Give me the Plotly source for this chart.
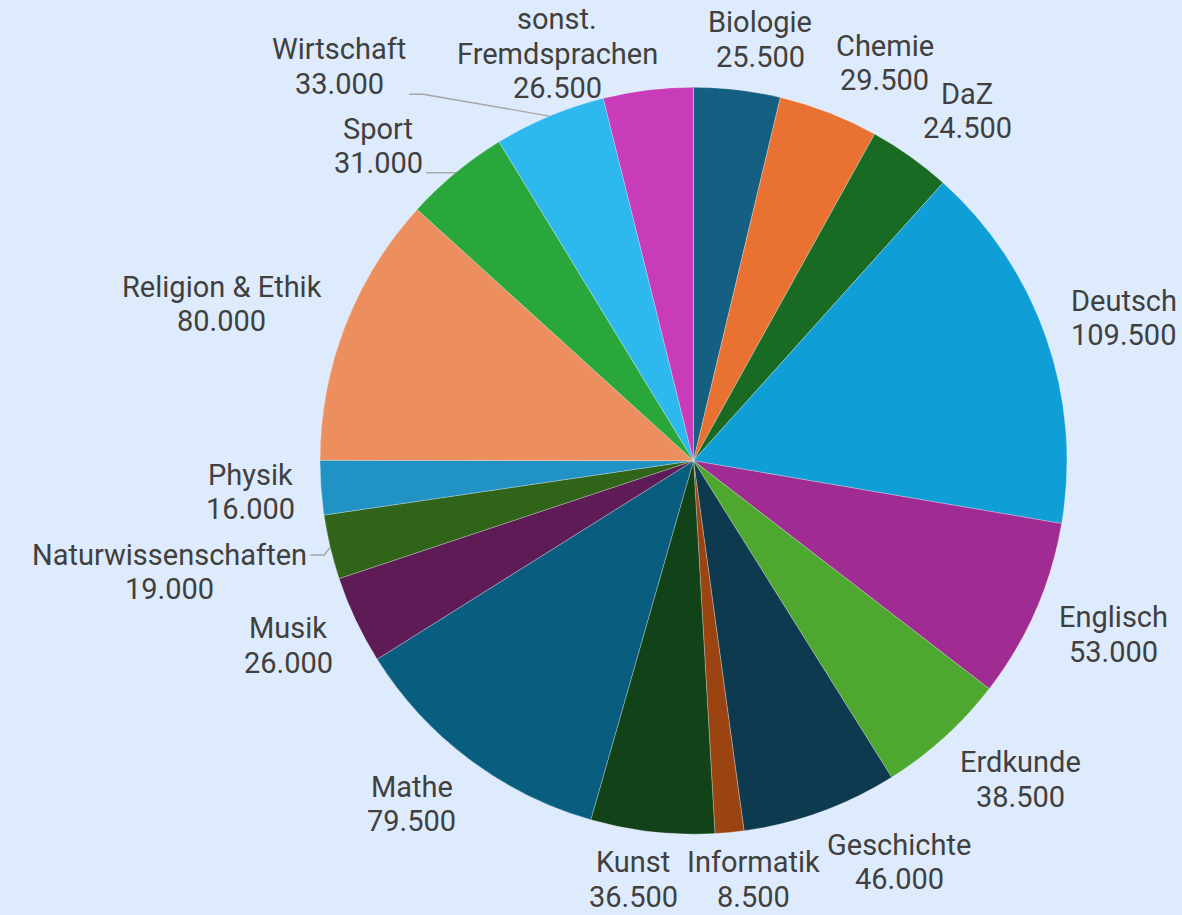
import math
import plotly.graph_objects as go

subjects = ["Biologie", "Chemie", "DaZ", "Deutsch", "Englisch", "Erdkunde", "Geschichte",
            "Informatik", "Kunst", "Mathe", "Musik", "Naturwissenschaften", "Physik",
            "Religion & Ethik", "Sport", "Wirtschaft", "sonst. Fremdsprachen"]
values = [25500, 29500, 24500, 109500, 53000, 38500, 46000, 8500, 36500, 79500,
          26000, 19000, 16000, 80000, 31000, 33000, 26500]
colors = ["#156082", "#E97132", "#196B24", "#0F9ED5", "#A02B93", "#4EA72E", "#0D3A4F",
          "#9B4412", "#114218", "#095E80", "#5F1B56", "#2F6419", "#2192C4",
          "#ED8E5E", "#29A73B", "#2DB8EE", "#C83CB9"]

# ---------------- layout constants ----------------
W, H = 1182, 915
CX, CY, RAD = 693.5, 460.7, 373.5       # pie geometry (px)
FONT_SIZE = 29
LINE_H = 34.5
TEXT_COLOR = "#404040"
BG = "#DEEBFD"

# approximate Roboto advance widths (em) for label-box estimation
ADV = {ch: 0.5615 for ch in "0123456789"}
ADV.update({".": 0.263, " ": 0.248, "&": 0.621,
            "a": 0.5435, "b": 0.561, "c": 0.5234, "d": 0.564, "e": 0.5298, "f": 0.3472,
            "g": 0.561, "h": 0.5513, "i": 0.2427, "k": 0.5068, "l": 0.2427, "m": 0.8765,
            "n": 0.5522, "o": 0.5703, "p": 0.561, "r": 0.3384, "s": 0.5161, "t": 0.3271,
            "u": 0.5513, "y": 0.4736, "w": 0.751, "z": 0.496,
            "B": 0.6216, "C": 0.6519, "D": 0.6548, "E": 0.5679, "F": 0.5522, "G": 0.6812,
            "I": 0.272, "K": 0.6265, "M": 0.873, "N": 0.7129, "P": 0.6323, "R": 0.6162,
            "S": 0.5928, "W": 0.8872, "Z": 0.5981})


def text_width(s):
    return sum(ADV.get(ch, 0.55) for ch in s) * FONT_SIZE


def fmt_de(v):
    return f"{v:,}".replace(",", ".")


def place(phi, hw, hh):
    a = math.radians(phi)
    s, c = math.sin(a), math.cos(a)
    rl = RAD + 14.5 + 12 * abs(s)
    sx = max(-1.0, min(1.0, 3.5 * s))
    x = CX + rl * s + hw * sx
    y = CY - rl * c - hh * c
    y = min(max(y, hh + 2), H - hh - 1)
    x = min(max(x, hw + 2), W - hw - 1)
    return x, y


def box(l):
    return (l["x"] - l["hw"], l["x"] + l["hw"], l["y"] - l["hh"], l["y"] + l["hh"])


def line_rects(l):
    n = len(l["lines"])
    out = []
    for k, w in enumerate(l["widths"]):
        yc = l["y"] + (k - (n - 1) / 2) * LINE_H
        out.append((l["x"] - w / 2, l["x"] + w / 2, yc - LINE_H / 2, yc + LINE_H / 2))
    return out


def overlaps(a, b, padx=5, pady=2):
    for al, ar, at, ab in line_rects(a):
        for bl, br, bt, bb in line_rects(b):
            if al < br + padx and bl < ar + padx and at < bb + pady and bt < ab + pady:
                return True
    return False


# ---------------- label placement ----------------
total = sum(values)
labs = []
cum = 0
for name, v in zip(subjects, values):
    phi = (cum + v / 2) / total * 360
    cum += v
    lines = name.replace("sonst. ", "sonst.\n").split("\n") + [fmt_de(v)]
    widths = [text_width(t) for t in lines]
    hw = max(widths) / 2
    hh = len(lines) * LINE_H / 2
    x, y = place(phi, hw, hh)
    labs.append(dict(phi=phi, lines=lines, widths=widths, hw=hw, hh=hh, x=x, y=y, moved=False))

right = sorted([l for l in labs if l["phi"] < 180], key=lambda l: l["phi"])
left = sorted([l for l in labs if l["phi"] >= 180], key=lambda l: -l["phi"])
placed = []
for lab in right + left:
    side = 1 if lab["phi"] < 180 else -1
    hits = [p for p in placed if overlaps(lab, p)]
    if hits:
        lab["moved"] = True
        if abs(math.cos(math.radians(lab["phi"]))) > 0.85:
            for _ in range(50):
                hits = [p for p in placed if overlaps(lab, p)]
                if not hits:
                    break
                o = hits[0]
                if side < 0:
                    lab["x"] = (o["x"] - o["hw"]) - 50 - lab["hw"]
                else:
                    lab["x"] = (o["x"] + o["hw"]) + 50 + lab["hw"]
        else:
            ph = lab["phi"]
            for _ in range(200):
                if not any(overlaps(lab, p, 8, 8) for p in placed):
                    break
                ph += 0.5 * side
                lab["x"], lab["y"] = place(ph, lab["hw"], lab["hh"])
    placed.append(lab)

# leader lines
lx, ly = [], []
for lab in labs:
    a = math.radians(lab["phi"])
    ex, ey = CX + RAD * math.sin(a), CY - RAD * math.cos(a)
    bl, br, bt, bb = box(lab)
    dx = max(bl - ex, 0, ex - br)
    dy = max(bt - ey, 0, ey - bb)
    if lab["moved"] and math.hypot(dx, dy) > 10:
        side = 1 if lab["phi"] < 180 else -1
        endx = bl - 3 if side > 0 else br + 3
        endy = min(max(ey, bt + 0.25 * (bb - bt)), bb - 0.1 * (bb - bt))
        elbx = endx - 14 * side
        lx += [ex, elbx, endx, None]
        ly += [ey, endy, endy, None]

# ---------------- figure ----------------
fig = go.Figure()
fig.add_trace(go.Scatter(x=lx, y=ly, mode="lines",
                         line=dict(color="#A6A6A6", width=1.4),
                         hoverinfo="skip", showlegend=False))
fig.add_trace(go.Pie(
    labels=subjects,
    values=values,
    textinfo="none",
    sort=False,
    direction="clockwise",
    rotation=0,
    marker=dict(colors=colors, line=dict(color="rgba(255,255,255,0.45)", width=0.6)),
    domain=dict(x=[(CX - RAD) / W, (CX + RAD) / W],
                y=[1 - (CY + RAD) / H, 1 - (CY - RAD) / H]),
    showlegend=False,
))

annotations = []
for lab in labs:
    n = len(lab["lines"])
    for k, t in enumerate(lab["lines"]):
        annotations.append(dict(
            x=lab["x"], y=lab["y"] + (k - (n - 1) / 2) * LINE_H,
            xref="x", yref="y", text=t, showarrow=False,
            xanchor="center", yanchor="middle",
            font=dict(family="Roboto", size=FONT_SIZE, color=TEXT_COLOR),
        ))

fig.update_layout(
    width=W, height=H,
    margin=dict(l=0, r=0, t=0, b=0),
    paper_bgcolor=BG,
    plot_bgcolor=BG,
    showlegend=False,
    xaxis=dict(range=[0, W], visible=False, fixedrange=True),
    yaxis=dict(range=[H, 0], visible=False, fixedrange=True),
    annotations=annotations,
)

fig.write_html("out.html", config={"displayModeBar": False},
               post_script="document.body.style.margin='0';document.body.style.background='#DEEBFD';")
